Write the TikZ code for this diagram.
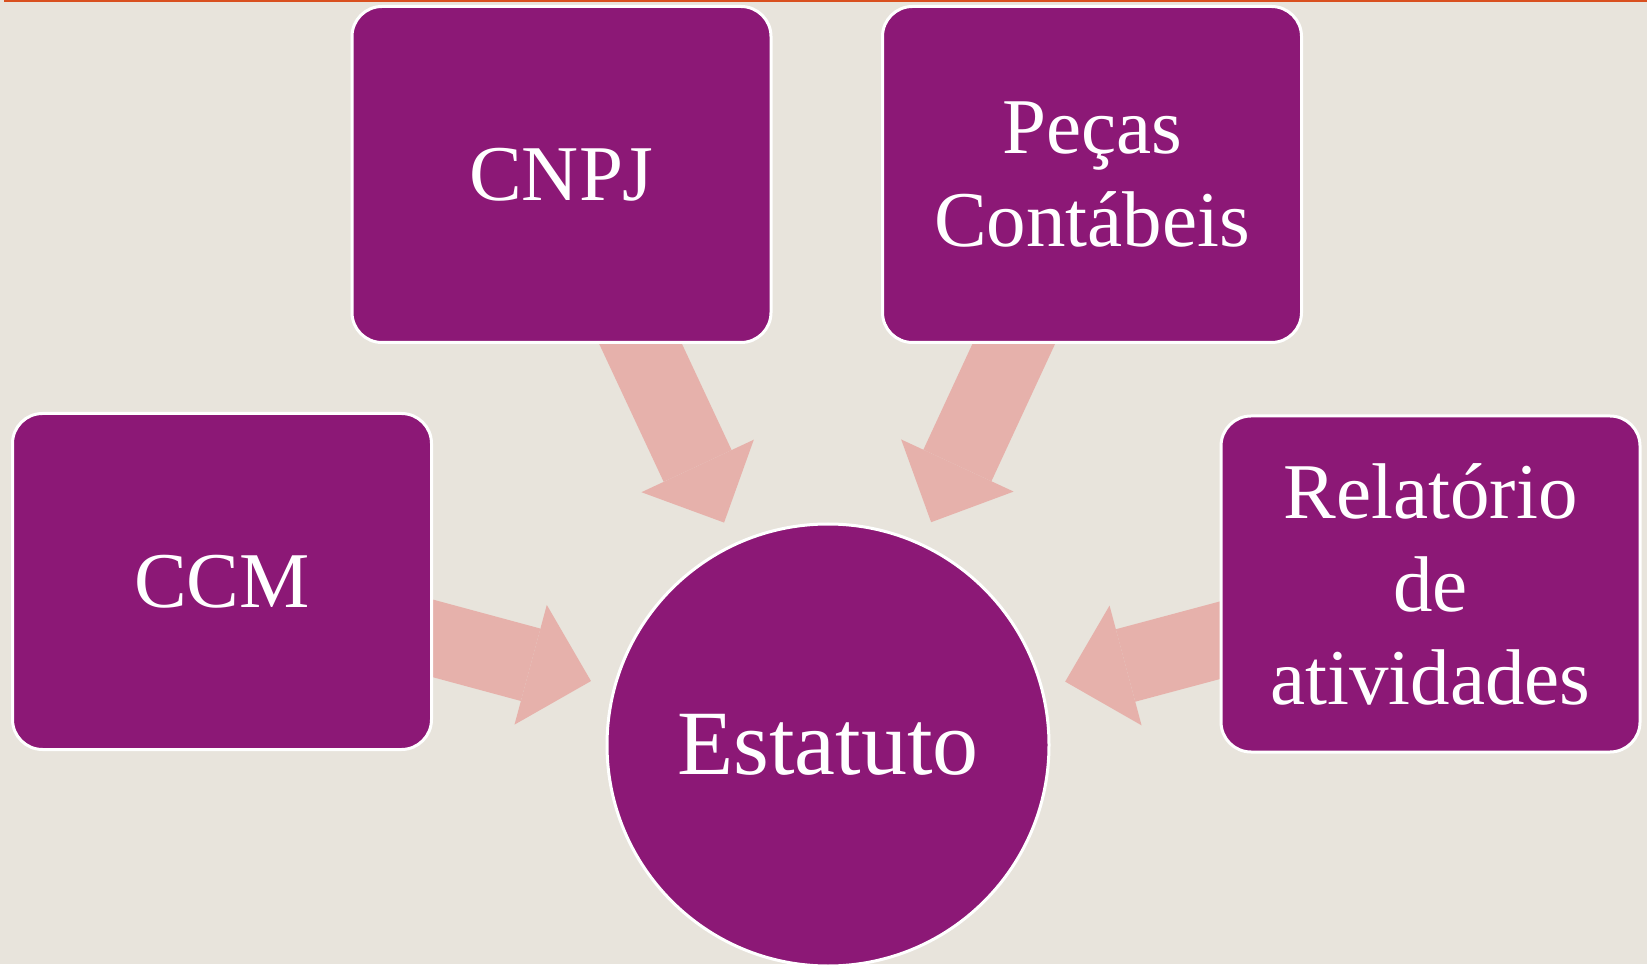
\documentclass[tikz,border=0pt]{standalone}
\usepackage{fontspec}
\setmainfont{Liberation Serif}
\usetikzlibrary{arrows.meta}
\usetikzlibrary{backgrounds}

\definecolor{paper}{HTML}{E8E4DC}
\definecolor{plum}{HTML}{8C1876}
\definecolor{salmon}{HTML}{E6B1AB}
\definecolor{rust}{HTML}{D9501F}

\tikzset{
    doc/.style={rectangle, rounded corners=15pt, fill=plum, draw=white, line width=1.5pt,
        minimum width=209.5pt, minimum height=168pt, text=white, align=center,
        font=\fontsize{39.5pt}{46.5pt}\selectfont},
    hub/.style={circle, fill=plum, draw=white, line width=1.5pt, minimum size=221pt,
        text=white, font=\fontsize{46pt}{52pt}\selectfont},
    feed/.style={draw=salmon, line width=37.5pt, shorten <=-20pt, shorten >=11.5pt,
        -{Triangle[length=31.25pt, width=62pt, line width=0pt]}},
}

\begin{document}
\begin{tikzpicture}[x=0.5pt, y=0.5pt]
        \useasboundingbox (0,0) rectangle (1647,964);
        \node [hub] (estatuto) at (828,219) {Estatuto};
        \node [doc] (cnpj) at (561.5,789.5) {CNPJ};
        \node [doc] (pecas) at (1092,789.5) {Peças\\Contábeis};
        \node [doc] (ccm) at (222,382.5) {CCM};
        \node [doc] (relatorio) at (1430.5,380) {Relatório\\de\\atividades};
        \fill [rust] (4,962) rectangle (1647,964);
        \begin{scope}[on background layer]
            \fill [paper] (0,0) rectangle (1647,964);
            \draw [feed] (cnpj) -- (estatuto);
            \draw [feed] (pecas) -- (estatuto);
            \draw [feed] (ccm) -- (estatuto);
            \draw [feed] (relatorio) -- (estatuto);
        \end{scope}
    \end{tikzpicture}
\end{document}
